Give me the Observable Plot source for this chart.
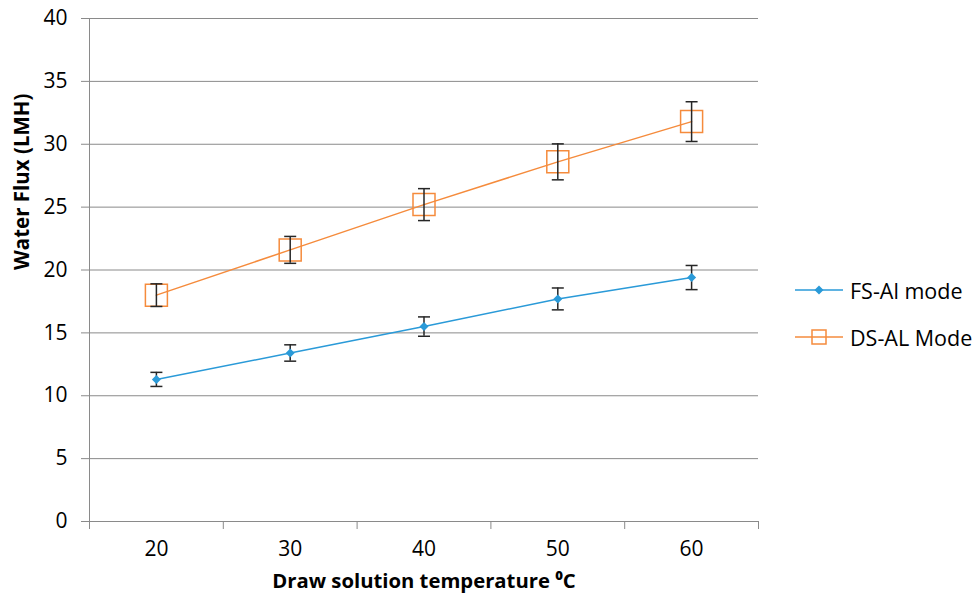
<!DOCTYPE html>
<html>
<head>
<meta charset="utf-8">
<script src="https://cdn.jsdelivr.net/npm/d3@7"></script>
<script src="https://cdn.jsdelivr.net/npm/@observablehq/plot@0.6"></script>
<style>
  html, body { margin: 0; padding: 0; background: #fff; }
  #wrap { position: relative; width: 973px; height: 602px; font-family: "Open Sans", sans-serif; }
  #legend { position: absolute; left: 795px; top: 276px; font-size: 21.5px; color: #000; white-space: nowrap; }
  .item { display: flex; align-items: center; height: 28px; margin-bottom: 19px; }
  .item svg { margin-right: 6px; }
</style>
</head>
<body>
<div id="wrap"><div id="chart"></div>
<div id="legend">
  <div class="item"><svg width="49" height="20"><line x1="0" x2="48" y1="10" y2="10" stroke="#2a9ad8" stroke-width="1.5"/><path d="M24,5.5L28.5,10L24,14.5L19.5,10Z" fill="#2a9ad8"/></svg>FS-Al mode</div>
  <div class="item"><svg width="49" height="20"><line x1="0" x2="48" y1="10" y2="10" stroke="#f58b3c" stroke-width="1.5"/><rect x="17" y="3" width="14" height="14" fill="none" stroke="#f58b3c" stroke-width="1.5"/></svg>DS-AL Mode</div>
</div>
</div>
<script>
const temps = [20, 30, 40, 50, 60];
const fsFlux = [11.3, 13.4, 15.5, 17.7, 19.4];
const fsErr = [0.56, 0.65, 0.77, 0.87, 0.96];
const dsFlux = [18.0, 21.6, 25.2, 28.6, 31.8];
const dsErr = [0.9, 1.07, 1.27, 1.43, 1.58];
const yTicks = [0, 5, 10, 15, 20, 25, 30, 35, 40];
const xEdges = [15, 25, 35, 45, 55, 65];

const blue = "#2a9ad8", orange = "#f58b3c", grid = "#8a8a8a", errColor = "#262626";

const fs = temps.map((t, i) => ({t, v: fsFlux[i], lo: fsFlux[i] - fsErr[i], hi: fsFlux[i] + fsErr[i]}));
const ds = temps.map((t, i) => ({t, v: dsFlux[i], lo: dsFlux[i] - dsErr[i], hi: dsFlux[i] + dsErr[i]}));
const all = fs.concat(ds);

const capSym = {draw(ctx, size) { const w = Math.sqrt(size / Math.PI); ctx.moveTo(-w, 0); ctx.lineTo(w, 0); }};
const diamondSym = {draw(ctx, size) { const h = Math.sqrt(size / Math.PI); ctx.moveTo(0, -h); ctx.lineTo(h, 0); ctx.lineTo(0, h); ctx.lineTo(-h, 0); ctx.closePath(); }};
const squareSym = {draw(ctx, size) { const h = Math.sqrt(size / Math.PI); ctx.rect(-h, -h, 2 * h, 2 * h); }};

const chart = Plot.plot({
  width: 973,
  height: 602,
  marginLeft: 89,
  marginRight: 215,
  marginTop: 18,
  marginBottom: 81,
  style: {fontFamily: "Open Sans", fontSize: "21px", color: "#000", background: "#fff"},
  x: {type: "linear", domain: [15, 65]},
  y: {domain: [0, 40]},
  marks: [
    Plot.gridY(yTicks.filter(d => d > 0), {stroke: grid, strokeOpacity: 1}),
    Plot.ruleY([0], {stroke: grid}),
    Plot.ruleX([15], {stroke: grid}),
    Plot.axisY(yTicks, {tickSize: 8, tickPadding: 14, stroke: grid, strokeOpacity: 1, label: null, fontSize: 21}),
    Plot.axisX(xEdges, {tickSize: 8, tickFormat: () => "", stroke: grid, strokeOpacity: 1, label: null}),
    Plot.axisX(temps, {tickSize: 0, tickPadding: 20, label: null, fontSize: 21}),
    Plot.line(ds, {x: "t", y: "v", stroke: orange, strokeWidth: 1.5}),
    Plot.dot(ds, {x: "t", y: "v", symbol: squareSym, r: 11, stroke: orange, strokeWidth: 1.5, fill: "none"}),
    Plot.ruleX(all, {x: "t", y1: "lo", y2: "hi", stroke: errColor, strokeWidth: 1.5}),
    Plot.dot(all, {x: "t", y: "lo", symbol: capSym, r: 6, stroke: errColor, strokeWidth: 1.5, fill: "none"}),
    Plot.dot(all, {x: "t", y: "hi", symbol: capSym, r: 6, stroke: errColor, strokeWidth: 1.5, fill: "none"}),
    Plot.line(fs, {x: "t", y: "v", stroke: blue, strokeWidth: 1.5}),
    Plot.dot(fs, {x: "t", y: "v", symbol: diamondSym, r: 4.5, fill: blue, stroke: "none"}),
    Plot.text(["Water Flux (LMH)"], {frameAnchor: "left", rotate: -90, dx: -67, fontWeight: "bold", fontSize: 20.5}),
    Plot.text(["Draw solution temperature \u2070C"], {frameAnchor: "bottom", dy: 66, fontWeight: "bold", fontSize: 20.3})
  ]
});
document.getElementById("chart").appendChild(chart);
</script>
</body>
</html>
